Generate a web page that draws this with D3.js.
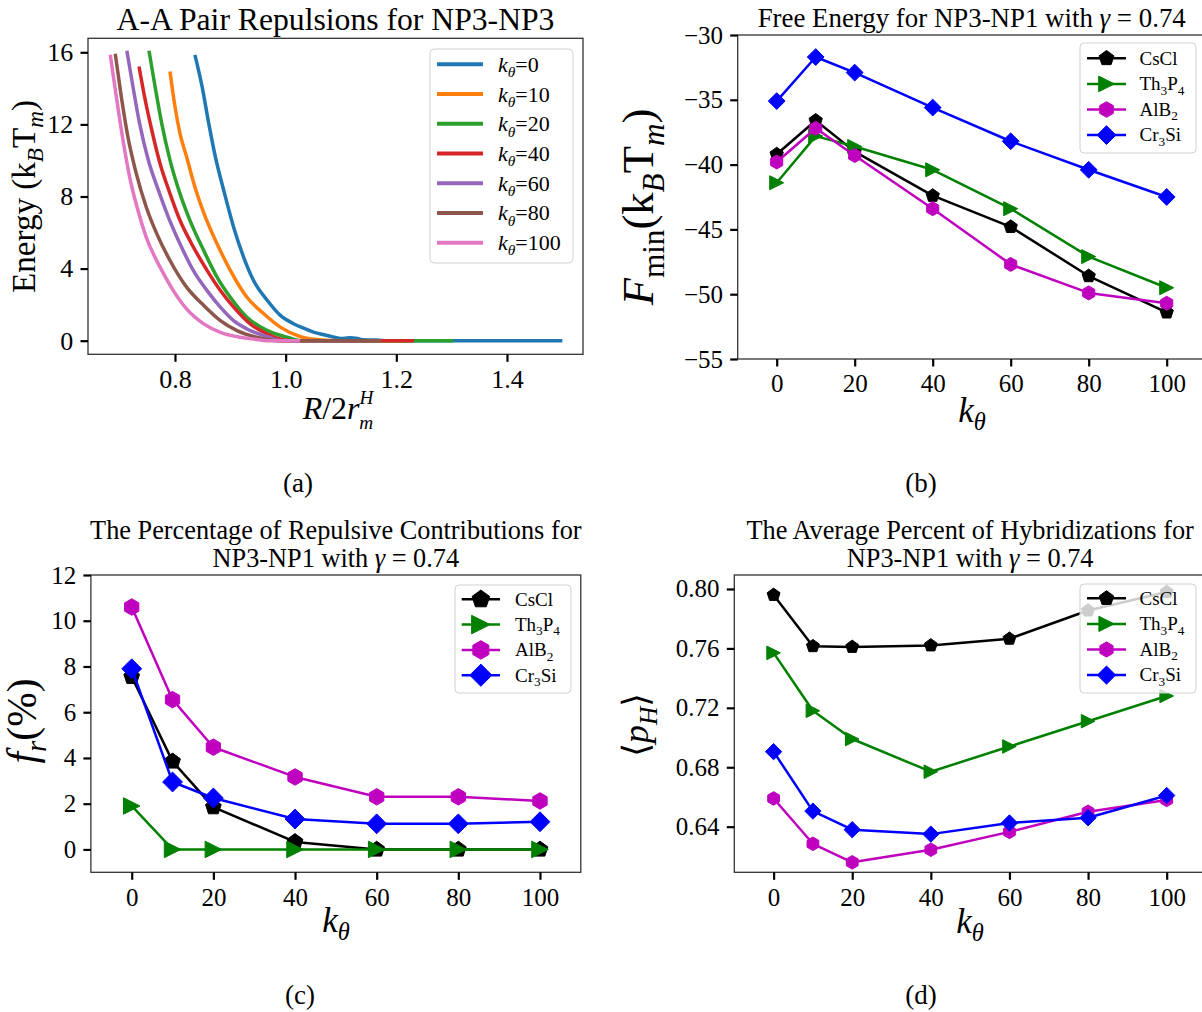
<!DOCTYPE html>
<html><head><meta charset="utf-8">
<script src="https://cdn.jsdelivr.net/npm/d3@7"></script>
<style>
html,body{margin:0;padding:0;background:#fff;}
svg{display:block;font-family:"Liberation Serif","Times New Roman",serif;}
</style></head><body>
<svg id="fig" width="1202" height="1012"></svg>
<script>
// ---------- (a) A-A pair repulsion curves: [R/2r_m^H, energy (k_B T_m)] ----------
const kTheta = [0, 10, 20, 40, 60, 80, 100];
const curveK0 = [[0.836,15.86],[0.849,14.1],[0.861,12.06],[0.873,10.2],[0.888,8.35],[0.906,6.3],[0.924,4.64],[0.942,3.34],[0.967,2.23],[0.991,1.39],[1.015,0.93],[1.03,0.72],[1.052,0.46],[1.07,0.33],[1.088,0.19],[1.10,0.12],[1.115,0.16],[1.13,0.12],[1.14,0.05],[1.16,0.04],[1.18,0.0],[1.5,0.0]];
const curveK10 = [[0.791,14.94],[0.8,12.99],[0.809,11.5],[0.821,10.2],[0.836,8.53],[0.855,6.86],[0.876,5.38],[0.9,3.9],[0.93,2.41],[0.961,1.48],[0.991,0.74],[1.027,0.22],[1.064,0.04],[1.1,0.0],[1.22,0.0]];
const curveK20 = [[0.753,16.09],[0.764,14.1],[0.776,12.06],[0.791,10.02],[0.809,8.16],[0.827,6.68],[0.852,5.0],[0.876,3.53],[0.9,2.41],[0.93,1.3],[0.967,0.56],[1.003,0.19],[1.027,0.0],[1.303,0.0]];
const curveK40 = [[0.735,15.21],[0.745,13.54],[0.758,11.69],[0.773,9.83],[0.791,8.16],[0.809,6.68],[0.83,5.38],[0.858,3.9],[0.882,2.78],[0.906,1.86],[0.936,0.93],[0.967,0.37],[0.997,0.04],[1.01,0.0],[1.232,0.0]];
const curveK60 = [[0.713,16.09],[0.724,14.1],[0.736,12.06],[0.752,10.0],[0.77,8.35],[0.788,6.86],[0.809,5.38],[0.833,3.9],[0.858,2.78],[0.882,1.86],[0.906,1.11],[0.93,0.65],[0.967,0.22],[0.991,0.0],[1.15,0.0]];
const curveK80 = [[0.692,15.92],[0.703,13.54],[0.715,11.3],[0.73,9.28],[0.748,7.42],[0.767,5.94],[0.791,4.45],[0.821,2.97],[0.852,1.95],[0.882,1.11],[0.912,0.56],[0.948,0.19],[0.985,0.0],[1.173,0.0]];
const curveK100 = [[0.683,15.86],[0.694,13.54],[0.706,11.13],[0.718,9.09],[0.733,7.24],[0.748,5.75],[0.773,4.08],[0.797,2.78],[0.821,1.76],[0.852,0.93],[0.882,0.46],[0.918,0.19],[0.945,0.08],[0.967,0.0],[1.026,0.0]];
const repulsionCurves = [curveK0, curveK10, curveK20, curveK40, curveK60, curveK80, curveK100];
const curveColors = ["#1f77b4","#ff7f0e","#2ca02c","#d62728","#9467bd","#8c564b","#e377c2"];
const ticksRepX = [0.8, 1.0, 1.2, 1.4];
const ticksRepY = [0, 4, 8, 12, 16];

// ---------- (b)-(d) structure series versus k_theta ----------
const kValues = [0, 10, 20, 40, 60, 80, 100];
const structures = ["CsCl", "Th3P4", "AlB2", "Cr3Si"];
const structColors = ["#000000", "#008000", "#bf00bf", "#0000ff"];
const structMarkers = ["pentagon", "triangleRight", "hexagon", "diamond"];

const fminCsCl  = [-39.2, -36.6, -39.0, -42.4, -44.8, -48.6, -51.4];
const fminTh3P4 = [-41.4, -37.8, -38.6, -40.4, -43.4, -47.1, -49.5];
const fminAlB2  = [-39.8, -37.2, -39.3, -43.4, -47.7, -49.9, -50.7];
const fminCr3Si = [-35.1, -31.7, -32.9, -35.6, -38.2, -40.4, -42.5];

const frCsCl  = [7.55, 3.85, 1.85, 0.33, 0, 0, 0];
const frTh3P4 = [1.9, 0, 0, 0, 0, 0, 0];
const frAlB2  = [10.6, 6.55, 4.47, 3.17, 2.3, 2.3, 2.12];
const frCr3Si = [7.9, 2.95, 2.25, 1.33, 1.12, 1.12, 1.21];

const phCsCl  = [0.796, 0.7615, 0.761, 0.762, 0.7665, 0.7855, 0.798];
const phTh3P4 = [0.757, 0.718, 0.699, 0.677, 0.694, 0.711, 0.728];
const phAlB2  = [0.659, 0.6285, 0.616, 0.6245, 0.6365, 0.650, 0.658];
const phCr3Si = [0.6905, 0.6505, 0.638, 0.635, 0.6425, 0.646, 0.661];

const ticksK = [0, 20, 40, 60, 80, 100];
const ticksFmin = [-55, -50, -45, -40, -35, -30];
const ticksFr = [0, 2, 4, 6, 8, 10, 12];
const ticksPh = [0.64, 0.68, 0.72, 0.76, 0.80];

// ---------- helpers ----------
const SERIF = "'Liberation Serif','Times New Roman',serif";
const svg = d3.select("#fig");
svg.append("rect").attr("width", 1202).attr("height", 1012).attr("fill", "#fff");

// rich text: parts {t, it, sub, sup, dx, scale, shift}
function rich(textSel, parts, fs) {
  textSel.selectAll("tspan").remove();
  let off = 0;
  parts.forEach(p => {
    const ts = textSel.append("tspan").text(p.t);
    let target = p.sub ? 0.24 * fs : p.sup ? -0.42 * fs : 0;
    if (p.shift !== undefined) target = p.shift * fs;
    const dy = target - off;
    if (dy) ts.attr("dy", dy);
    off = target;
    const sc = p.scale || ((p.sub || p.sup) ? 0.7 : 1);
    ts.attr("font-size", sc * fs);
    if (p.it) ts.attr("font-style", "italic");
    if (p.dx) ts.attr("dx", p.dx * fs);
  });
}
function label(parent, parts, opt) {
  const t = parent.append("text")
    .attr("text-anchor", opt.anchor || "middle")
    .attr("font-family", SERIF)
    .attr("fill", "#000");
  if (opt.rotate) t.attr("transform", `translate(${opt.x},${opt.y}) rotate(-90)`);
  else t.attr("x", opt.x).attr("y", opt.y);
  let fs = opt.fs;
  rich(t, parts, fs);
  if (opt.width) {
    const w = t.node().getBBox().width;
    fs = fs * opt.width / w;
    rich(t, parts, fs);
  }
  return fs;
}
function chemParts(name) {
  return name.split(/(\d+)/).filter(s => s.length).map(s => /\d/.test(s) ? {t: s, sub: true} : {t: s});
}
function markerPath(kind, r) {
  let pts;
  if (kind === "pentagon") pts = d3.range(5).map(i => { const a = -Math.PI / 2 + i * 2 * Math.PI / 5; return [r * Math.cos(a), r * Math.sin(a)]; });
  else if (kind === "hexagon") pts = d3.range(6).map(i => { const a = -Math.PI / 2 + i * Math.PI / 3; return [r * Math.cos(a), r * Math.sin(a)]; });
  else if (kind === "triangleRight") pts = [[r, 0], [-r, -r], [-r, r]];
  else pts = [[0, -r * 1.2], [r * 1.2, 0], [0, r * 1.2], [-r * 1.2, 0]];
  return "M" + pts.map(p => p.join(",")).join("L") + "Z";
}
const minus = d => d < 0 ? "\u2212" + Math.abs(d) : String(d);

function drawAxes(g, p, x, y, xt, yt, xf, yf, fs) {
  g.append("rect").attr("x", p.x0).attr("y", p.y0).attr("width", p.x1 - p.x0).attr("height", p.y1 - p.y0)
    .attr("fill", "none").attr("stroke", "#333").attr("stroke-width", 1.3);
  const ax = g.append("g").attr("transform", `translate(0,${p.y1})`)
    .call(d3.axisBottom(x).tickValues(xt).tickFormat(xf).tickSize(7.5).tickPadding(33.4 - 7.5 - 0.71 * fs));
  const ay = g.append("g").attr("transform", `translate(${p.x0},0)`)
    .call(d3.axisLeft(y).tickValues(yt).tickFormat(yf).tickSize(7.5).tickPadding(7.2));
  [ax, ay].forEach(a => {
    a.select(".domain").remove();
    a.attr("font-size", fs).attr("font-family", SERIF);
    a.selectAll(".tick line").attr("stroke", "#000").attr("stroke-width", 2.2);
    a.selectAll(".tick text").attr("fill", "#000").attr("font-family", SERIF);
  });
}

// ---------- panel (a) ----------
{
  const p = {x0: 88, x1: 583, y0: 38.3, y1: 354.3};
  const x = d3.scaleLinear().domain([0.6428, 1.5374]).range([p.x0, p.x1]);
  const y = d3.scaleLinear().domain([-0.755, 16.777]).range([p.y1, p.y0]);
  const g = svg.append("g");
  const line = d3.line().x(d => x(d[0])).y(d => y(d[1])).curve(d3.curveMonotoneX);
  repulsionCurves.forEach((c, i) => {
    g.append("path").attr("d", line(c)).attr("fill", "none")
      .attr("stroke", curveColors[i]).attr("stroke-width", 3.5)
      .attr("stroke-linejoin", "round").attr("stroke-linecap", "butt");
  });
  drawAxes(g, p, x, y, ticksRepX, ticksRepY, d3.format(".1f"), d3.format("d"), 26);
  // legend
  const lg = g.append("g");
  lg.append("rect").attr("x", 430).attr("y", 49).attr("width", 143).attr("height", 214).attr("rx", 4)
    .attr("fill", "#fff").attr("fill-opacity", 0.8).attr("stroke", "#d0d0d0").attr("stroke-width", 1);
  kTheta.forEach((k, i) => {
    const yy = 64.3 + i * 29.73;
    lg.append("line").attr("x1", 437).attr("x2", 483).attr("y1", yy).attr("y2", yy)
      .attr("stroke", curveColors[i]).attr("stroke-width", 4);
    label(lg, [{t: "k", it: true}, {t: "θ", it: true, sub: true}, {t: "=" + k}], {x: 498, y: yy + 7.5, fs: 22, anchor: "start"});
  });
  label(g, [{t: "A-A Pair Repulsions for NP3-NP3"}], {x: 335.5, y: 30, fs: 28, width: 438});
  label(g, [{t: "Energy (k"}, {t: "B", it: true, sub: true}, {t: "T"}, {t: "m", it: true, sub: true}, {t: ")"}],
    {x: 35, y: 196.5, fs: 29, rotate: true, width: 193});
  label(g, [{t: "R", it: true}, {t: "/2"}, {t: "r", it: true},
            {t: "H", it: true, scale: 0.6, shift: -0.47},
            {t: "m", it: true, scale: 0.6, shift: 0.3, dx: -0.44}],
    {x: 338, y: 419, fs: 32});
  label(g, [{t: "(a)"}], {x: 298, y: 492, fs: 27});
}

// ---------- structure panels (b), (c), (d) ----------
function structPanel(cfg) {
  const p = cfg.box;
  const x = d3.scaleLinear().domain([-10, 110]).range([p.x0, p.x1]);
  const y = d3.scaleLinear().domain(cfg.ydom).range([p.y1, p.y0]);
  const g = svg.append("g");
  const line = d3.line().x((d, i) => x(kValues[i])).y(d => y(d));
  cfg.series.forEach((s, j) => {
    g.append("path").attr("d", line(s)).attr("fill", "none")
      .attr("stroke", structColors[j]).attr("stroke-width", 2.5).attr("stroke-linejoin", "round");
    g.selectAll(null).data(s).join("path")
      .attr("transform", (d, i) => `translate(${x(kValues[i])},${y(d)})`)
      .attr("d", markerPath(structMarkers[j], 7 * cfg.ms))
      .attr("fill", structColors[j]).attr("stroke", structColors[j]).attr("stroke-width", 1);
  });
  drawAxes(g, p, x, y, ticksK, cfg.yticks, d3.format("d"), cfg.yfmt, 25);
  // legend
  const L = cfg.legend;
  const lg = g.append("g");
  lg.append("rect").attr("x", L.x).attr("y", L.y).attr("width", L.w).attr("height", L.h).attr("rx", 4)
    .attr("fill", "#fff").attr("fill-opacity", 0.8).attr("stroke", "#d0d0d0").attr("stroke-width", 1);
  structures.forEach((name, j) => {
    const yy = L.y0 + j * L.dy;
    lg.append("line").attr("x1", L.hx0).attr("x2", L.hx1).attr("y1", yy).attr("y2", yy)
      .attr("stroke", structColors[j]).attr("stroke-width", 2.5);
    lg.append("path").attr("transform", `translate(${(L.hx0 + L.hx1) / 2},${yy})`)
      .attr("d", markerPath(structMarkers[j], 7 * cfg.ms * 1.12))
      .attr("fill", structColors[j]).attr("stroke", structColors[j]).attr("stroke-width", 1);
    label(lg, chemParts(name), {x: L.tx, y: yy + 6.3, fs: 19, anchor: "start"});
  });
  // titles and labels
  const cx = (p.x0 + Math.min(p.x1, 1206)) / 2;
  const tfs = label(g, cfg.title[0], {x: cx, y: cfg.titleY[0], fs: 23, width: cfg.titleW});
  if (cfg.title[1]) label(g, cfg.title[1], {x: cx, y: cfg.titleY[1], fs: tfs});
  label(g, cfg.ylabel, cfg.ylabelOpt);
  label(g, [{t: "k", it: true}, {t: "θ", it: true, sub: true}], cfg.xlabelOpt);
  label(g, [{t: cfg.tag}], cfg.tagOpt);
}

const gammaLine = [{t: "NP3-NP1 with "}, {t: "γ", it: true}, {t: " = 0.74"}];
const energyUnit = [{t: "(k"}, {t: "B", it: true, sub: true}, {t: "T"}, {t: "m", it: true, sub: true}, {t: ")"}];

structPanel({
  box: {x0: 737.7, x1: 1205.7, y0: 35, y1: 359},
  ydom: [-55, -30], yticks: ticksFmin, yfmt: minus, ms: 1.0,
  series: [fminCsCl, fminTh3P4, fminAlB2, fminCr3Si],
  legend: {x: 1080, y: 43, w: 116, h: 110, y0: 58.3, dy: 25.6, hx0: 1087, hx1: 1126, tx: 1139.5},
  title: [[{t: "Free Energy for NP3-NP1 with "}, {t: "γ", it: true}, {t: " = 0.74"}]],
  titleY: [27], titleW: 429,
  ylabel: [{t: "F", it: true}, {t: "min", sub: true}].concat(energyUnit),
  ylabelOpt: {x: 653, y: 207, fs: 34, rotate: true, width: 198},
  xlabelOpt: {x: 972, y: 422, fs: 35},
  tag: "(b)", tagOpt: {x: 921, y: 492, fs: 27}
});

structPanel({
  box: {x0: 90.9, x1: 580.8, y0: 575, y1: 872.3},
  ydom: [-1, 12], yticks: ticksFr, yfmt: d3.format("d"), ms: 1.18,
  series: [frCsCl, frTh3P4, frAlB2, frCr3Si],
  legend: {x: 455, y: 585, w: 116, h: 108, y0: 599.3, dy: 25.3, hx0: 461.7, hx1: 500, tx: 515},
  title: [[{t: "The Percentage of Repulsive Contributions for"}], gammaLine],
  titleY: [539, 567], titleW: 492,
  ylabel: [{t: "f", it: true}, {t: "r", it: true, sub: true}, {t: "(%)"}],
  ylabelOpt: {x: 36, y: 721, fs: 30, rotate: true, width: 85},
  xlabelOpt: {x: 336, y: 932, fs: 35},
  tag: "(c)", tagOpt: {x: 300, y: 1004, fs: 27}
});

structPanel({
  box: {x0: 734.3, x1: 1206, y0: 575, y1: 872.3},
  ydom: [0.6093, 0.8094], yticks: ticksPh, yfmt: d3.format(".2f"), ms: 0.97,
  series: [phCsCl, phTh3P4, phAlB2, phCr3Si],
  legend: {x: 1080, y: 584, w: 116, h: 109, y0: 598.3, dy: 25.6, hx0: 1087, hx1: 1126, tx: 1139.5},
  title: [[{t: "The Average Percent of Hybridizations for"}], gammaLine],
  titleY: [539, 567], titleW: 448,
  ylabel: [{t: "⟨"}, {t: "p", it: true}, {t: "H", it: true, sub: true}, {t: "⟩"}],
  ylabelOpt: {x: 648, y: 725, fs: 32, rotate: true, width: 64},
  xlabelOpt: {x: 970, y: 933, fs: 35},
  tag: "(d)", tagOpt: {x: 921, y: 1004, fs: 27}
});
</script>
</body></html>
